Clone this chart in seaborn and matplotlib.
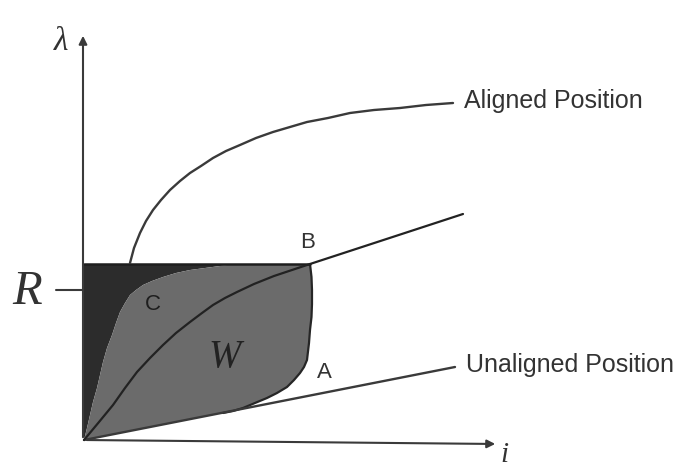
import numpy as np
import matplotlib
matplotlib.use("Agg")
import matplotlib.pyplot as plt
import seaborn as sns

sns.set_theme(style="white")
plt.rcParams["font.family"] = ["Liberation Sans", "DejaVu Sans"]

# Flux-linkage (lambda) vs current (i) curves, arbitrary units
aligned_i = [46, 50, 56, 62, 69, 77, 86, 96, 106, 117, 129, 142, 156, 172, 189, 206, 223, 244, 266, 290, 316, 342, 369]
aligned_l = [177, 192, 207, 219, 230, 240, 250, 259, 267, 274, 282, 289, 295, 302, 308, 313, 318, 322, 327, 330, 332, 335, 337]

unaligned_i = [0, 371]
unaligned_l = [0, 73]

# intermediate-position magnetisation curve through point B
mid_i = [0, 15, 29, 41, 53, 66, 79, 92, 106, 118, 129, 141, 153, 170, 190, 208, 226, 379]
mid_l = [0, 18, 35, 52, 68, 82, 95, 107, 118, 127, 135, 142, 148, 156, 164, 170, 176, 226]

# boundary C between the co-energy part and the work loop W
c_i = [0, 3, 6, 9, 13, 16, 19, 23, 28, 32, 36, 41, 46, 52, 59, 68, 79, 92, 106, 121, 136, 150]
c_l = [0, 12, 25, 38, 52, 65, 78, 92, 105, 117, 128, 137, 145, 150, 155, 159, 163, 167, 170, 172, 174, 176]

# right edge of the loop from B down to A, merging into the unaligned curve
edge_i = [226, 227.5, 228, 228, 227.5, 226, 225, 223, 220, 216, 210, 203, 193, 183, 171, 159, 149, 139]
edge_l = [176, 163, 150, 136, 123, 110, 97, 80, 73, 67, 60, 53, 47, 42, 37, 32, 29, 27]

lam_R = 176
B_i, B_l = 226, 176

fig = plt.figure(figsize=(6.81, 4.70), dpi=100)
ax = fig.add_axes([0, 0, 1, 1])
ax.set_xlim(-84, 597)
ax.set_ylim(-30, 440)
ax.axis("off")

line_col = "#3a3a3a"
dark_col = "#2c2c2c"
gray_col = "#6b6b6b"

# dark region: between the lambda axis and boundary C, capped at R
dark_x = [0, 0] + c_i[::-1]
dark_y = [0, lam_R] + c_l[::-1]
ax.fill(dark_x, dark_y, color=dark_col, lw=0, zorder=1)

# gray region W: C boundary, top at R, right edge, back along the unaligned curve
un_back_i = np.linspace(edge_i[-1], 0, 10)
un_back_l = np.interp(un_back_i, unaligned_i, unaligned_l)
gray_x = list(c_i) + [B_i] + edge_i + list(un_back_i)
gray_y = list(c_l) + [B_l] + edge_l + list(un_back_l)
ax.fill(gray_x, gray_y, color=gray_col, lw=0, zorder=2)


def curve(x, y, color=line_col, lw=1.7, z=4):
    sns.lineplot(x=x, y=y, sort=False, estimator=None, ax=ax, color=color,
                 lw=lw, zorder=z, solid_capstyle="round", solid_joinstyle="round")


# outline of the loop's right edge and its top at R
curve(edge_i, edge_l, color="#262626", lw=1.6, z=3)
curve([0, B_i], [lam_R, lam_R], color="#1e1e1e", lw=1.8, z=3)

# magnetisation curves
curve(aligned_i, aligned_l)
curve(unaligned_i, unaligned_l)
curve(mid_i, mid_l, color="#222222", lw=1.6)

# axes with arrow heads
ax.annotate("", xy=(-1, 407), xytext=(-1, 0),
            arrowprops=dict(arrowstyle="-|>", color=line_col, lw=1.5, mutation_scale=12), zorder=5)
ax.annotate("", xy=(414, -4), xytext=(0, 0),
            arrowprops=dict(arrowstyle="-|>", color=line_col, lw=1.5, mutation_scale=12), zorder=5)

# R tick on the lambda axis
curve([-28, -1], [150, 150], lw=1.5, z=5)

serif = ["Liberation Serif", "DejaVu Serif"]
ax.text(-23, 398, "λ", fontsize=24, family=serif, style="italic", color="#333333",
        ha="center", va="center")
ax.text(420, -15, "i", fontsize=21, family=serif, style="italic", color="#333333",
        ha="center", va="center")
ax.text(-57, 148, "R", fontsize=35, family=serif, style="italic", color="#333333",
        ha="center", va="center")
ax.text(141, 82, "W", fontsize=28, family=serif, style="italic", color="#222222",
        ha="center", va="center")

ax.text(224, 197, "B", fontsize=16, color="#333333", ha="center", va="center")
ax.text(69, 136, "C", fontsize=16, color="#1e1e1e", ha="center", va="center")
ax.text(240, 68, "A", fontsize=16, color="#333333", ha="center", va="center")

ax.text(380, 339, "Aligned Position", fontsize=18, color="#333333", ha="left", va="center")
ax.text(382, 75, "Unaligned Position", fontsize=18, color="#333333", ha="left", va="center")

fig.savefig("out.png", dpi=100)
